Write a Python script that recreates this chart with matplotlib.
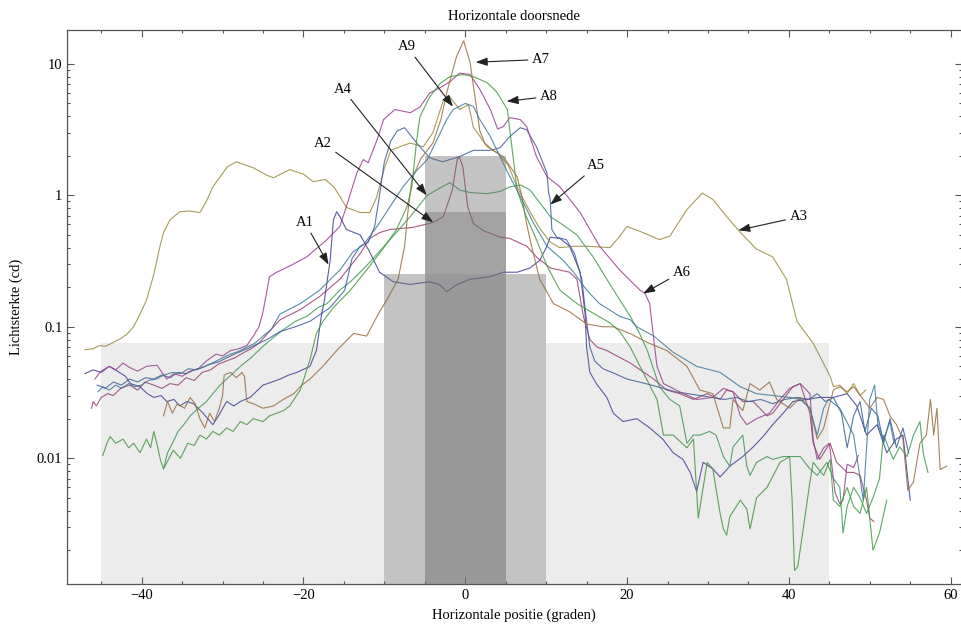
import numpy as np
import matplotlib
matplotlib.use("Agg")
import matplotlib.pyplot as plt
from matplotlib.ticker import LogLocator, NullFormatter

plt.rcParams['font.family'] = ['Liberation Serif', 'DejaVu Serif']

# Measured luminous intensity per lamp (x in degrees, y in cd)
a1 = [(-47.0, 0.044), (-46.0, 0.047), (-45.0, 0.045), (-44.0, 0.05), (-43.0, 0.046), (-42.0, 0.042),
      (-41.4, 0.037), (-40.2, 0.035), (-39.3, 0.031), (-38.5, 0.029), (-37.6, 0.030), (-36.9, 0.027),
      (-36.0, 0.028), (-35.3, 0.025), (-34.4, 0.027), (-33.6, 0.026), (-32.4, 0.022), (-31.2, 0.018),
      (-30.5, 0.021), (-29.5, 0.027), (-28.6, 0.025), (-27.8, 0.027), (-26.6, 0.029), (-25.0, 0.036),
      (-23.9, 0.038), (-22.9, 0.040), (-21.8, 0.043), (-20.8, 0.045), (-19.2, 0.050), (-18.4, 0.066),
      (-17.8, 0.12), (-17.4, 0.16), (-17.0, 0.24), (-16.7, 0.32), (-16.3, 0.65), (-15.9, 0.75),
      (-15.5, 0.69), (-14.7, 0.55), (-13.0, 0.50), (-11.8, 0.37), (-10.6, 0.26), (-8.9, 0.22),
      (-6.8, 0.21), (-4.4, 0.22), (-3.2, 0.21), (-2.3, 0.185), (-1.0, 0.21), (0.6, 0.23), (3.0, 0.24),
      (4.7, 0.26), (6.4, 0.26), (8.0, 0.28), (9.2, 0.32), (10.0, 0.40), (10.5, 0.48), (11.7, 0.47),
      (12.9, 0.41), (14.2, 0.26), (14.8, 0.127), (15.0, 0.07), (15.4, 0.045), (16.2, 0.037),
      (17.5, 0.029), (18.3, 0.022), (19.5, 0.019), (21.2, 0.020), (22.8, 0.017), (24.4, 0.014),
      (25.7, 0.011), (26.9, 0.0098), (27.8, 0.0078), (28.6, 0.0056), (29.4, 0.0093), (30.6, 0.0083),
      (31.5, 0.0072), (32.7, 0.0087), (34.3, 0.0103), (35.6, 0.0122), (36.8, 0.0146), (38.0, 0.018),
      (39.3, 0.022), (40.5, 0.027), (42.2, 0.028), (43.8, 0.029), (45.5, 0.029), (47.2, 0.031),
      (48.4, 0.025), (49.6, 0.015), (50.9, 0.018), (52.1, 0.011), (53.3, 0.014), (54.1, 0.015),
      (55.0, 0.0048)]

a2 = [(-46.2, 0.024), (-46.0, 0.027), (-45.6, 0.025), (-45.0, 0.029), (-44.2, 0.031), (-43.5, 0.030),
      (-42.6, 0.034), (-41.5, 0.036), (-40.5, 0.033), (-39.6, 0.038), (-38.5, 0.036), (-37.5, 0.034),
      (-36.5, 0.037), (-35.5, 0.036), (-34.5, 0.041), (-33.5, 0.039), (-32.5, 0.045), (-31.5, 0.047),
      (-30.5, 0.052), (-29.5, 0.055), (-28.5, 0.058), (-27.5, 0.063), (-26.5, 0.068), (-25.5, 0.075),
      (-24.5, 0.088), (-22.9, 0.113), (-20.4, 0.135), (-18.0, 0.17), (-15.5, 0.23), (-14.2, 0.29),
      (-13.0, 0.36), (-11.8, 0.47), (-10.6, 0.52), (-9.3, 0.55), (-6.5, 0.57), (-4.0, 0.62),
      (-2.7, 0.69), (-1.6, 1.1), (-1.0, 1.87), (-0.75, 1.97), (-0.3, 1.65), (0.3, 0.82), (1.0, 0.61),
      (2.2, 0.54), (4.3, 0.48), (5.5, 0.47), (7.6, 0.41), (8.8, 0.34), (10.5, 0.28), (11.7, 0.27),
      (12.9, 0.26), (13.8, 0.23), (14.6, 0.12), (15.4, 0.08), (16.3, 0.07), (17.5, 0.066),
      (18.3, 0.062), (20.4, 0.053), (23.3, 0.040), (24.9, 0.033), (26.5, 0.031), (28.2, 0.028),
      (29.9, 0.031), (31.5, 0.028), (32.3, 0.033), (33.1, 0.032), (34.3, 0.027), (35.6, 0.027),
      (37.3, 0.021), (38.0, 0.022), (39.3, 0.028), (40.5, 0.035), (41.4, 0.037), (42.6, 0.022),
      (43.0, 0.013), (43.8, 0.0098), (44.7, 0.012), (45.1, 0.013), (45.9, 0.0093), (47.2, 0.0078),
      (48.0, 0.0078), (48.8, 0.0074), (49.6, 0.0048), (50.0, 0.0035), (50.5, 0.0033)]

a3 = [(-47.0, 0.067), (-46.0, 0.068), (-45.2, 0.072), (-44.5, 0.071), (-43.5, 0.076), (-42.5, 0.082),
      (-41.8, 0.088), (-41.0, 0.10), (-40.2, 0.125), (-39.4, 0.16), (-38.5, 0.25), (-37.7, 0.42),
      (-37.3, 0.52), (-36.5, 0.65), (-35.3, 0.75), (-34.1, 0.76), (-32.8, 0.74), (-32.0, 0.9),
      (-31.2, 1.16), (-29.4, 1.65), (-28.3, 1.8), (-26.2, 1.62), (-24.5, 1.42), (-23.7, 1.36),
      (-21.7, 1.57), (-20.0, 1.45), (-18.8, 1.27), (-17.3, 1.32), (-16.2, 1.15), (-15.5, 0.98),
      (-14.7, 0.81), (-13.0, 0.74), (-11.8, 0.74), (-11.0, 0.95), (-10.0, 1.6), (-9.2, 2.2),
      (-8.1, 2.34), (-6.8, 2.5), (-5.2, 2.34), (-4.0, 3.0), (-2.7, 5.3), (-1.9, 5.6), (-0.7, 4.5),
      (0.4, 4.9), (1.0, 3.3), (2.7, 2.35), (4.0, 2.1), (5.3, 1.7), (6.4, 1.16), (8.0, 0.75),
      (9.3, 0.55), (10.5, 0.44), (11.7, 0.40), (13.5, 0.41), (15.0, 0.41), (17.9, 0.40), (19.0, 0.48),
      (20.0, 0.58), (22.0, 0.52), (24.0, 0.46), (25.3, 0.49), (27.4, 0.78), (29.3, 1.04), (30.6, 0.93),
      (32.3, 0.69), (33.9, 0.53), (36.0, 0.39), (38.0, 0.34), (39.7, 0.23), (41.0, 0.11), (43.0, 0.075),
      (45.1, 0.042), (45.5, 0.035), (46.3, 0.036), (47.2, 0.031), (48.0, 0.037), (48.8, 0.030),
      (49.5, 0.033)]

a4 = [(-37.3, 0.0083), (-36.8, 0.011), (-36.2, 0.013), (-35.5, 0.016), (-34.8, 0.018), (-34.0, 0.021),
      (-33.0, 0.024), (-32.0, 0.027), (-31.2, 0.031), (-30.3, 0.036), (-29.5, 0.040), (-28.6, 0.045),
      (-27.8, 0.050), (-26.5, 0.058), (-25.0, 0.071), (-23.8, 0.082), (-22.5, 0.095), (-21.0, 0.11),
      (-19.6, 0.12), (-18.2, 0.14), (-17.1, 0.15), (-15.5, 0.19), (-14.2, 0.22), (-13.0, 0.26),
      (-11.8, 0.31), (-9.3, 0.46), (-6.8, 0.69), (-4.7, 1.0), (-3.1, 1.14), (-1.9, 1.25), (-0.7, 1.1),
      (0.6, 1.05), (2.7, 1.03), (4.3, 1.07), (5.5, 1.16), (6.8, 1.2), (8.0, 1.1), (9.2, 0.88),
      (10.5, 0.69), (12.0, 0.6), (13.8, 0.5), (15.8, 0.34), (17.5, 0.23), (19.1, 0.16), (20.4, 0.12),
      (21.5, 0.09), (22.5, 0.066), (24.0, 0.035), (25.3, 0.028), (26.5, 0.025), (27.4, 0.013),
      (28.2, 0.015), (29.0, 0.015), (30.2, 0.016), (31.0, 0.015), (31.9, 0.0103), (32.7, 0.0087),
      (33.1, 0.0122), (34.3, 0.015), (34.8, 0.0087), (35.2, 0.0074), (36.0, 0.0093), (37.3, 0.0103),
      (38.0, 0.0098), (39.3, 0.0103), (40.1, 0.0103), (41.4, 0.0103), (42.6, 0.0083), (43.5, 0.0074),
      (44.7, 0.0093), (45.5, 0.007), (46.3, 0.006), (46.7, 0.0027), (47.2, 0.0043), (48.0, 0.006),
      (48.8, 0.005), (49.6, 0.0038), (50.4, 0.005), (51.2, 0.007), (51.7, 0.015), (52.9, 0.0098),
      (53.7, 0.0122), (54.6, 0.0103), (55.4, 0.015), (56.2, 0.019), (56.6, 0.011), (57.0, 0.0087),
      (57.2, 0.0078)]

a5 = [(-45.5, 0.036), (-44.5, 0.034), (-43.5, 0.038), (-42.5, 0.036), (-41.5, 0.040), (-40.5, 0.038),
      (-39.5, 0.041), (-38.5, 0.040), (-37.5, 0.043), (-36.5, 0.041), (-35.5, 0.045), (-34.5, 0.044),
      (-33.5, 0.047), (-32.5, 0.049), (-31.5, 0.052), (-30.5, 0.054), (-29.5, 0.058), (-28.5, 0.062),
      (-27.5, 0.066), (-26.5, 0.070), (-25.5, 0.075), (-24.5, 0.080), (-22.9, 0.092), (-21.0, 0.10),
      (-19.2, 0.11), (-16.7, 0.14), (-14.9, 0.19), (-14.0, 0.33), (-13.0, 0.41), (-12.0, 0.44),
      (-11.2, 0.58), (-10.6, 1.0), (-10.0, 1.8), (-9.2, 2.6), (-8.4, 3.1), (-7.5, 3.27), (-6.0, 2.5),
      (-4.4, 1.93), (-2.8, 1.8), (-0.7, 1.97), (1.0, 2.2), (3.1, 2.2), (4.3, 2.3), (5.5, 2.8),
      (6.8, 3.27), (7.6, 3.15), (8.8, 2.34), (10.1, 1.48), (10.3, 1.05), (10.5, 0.93), (10.7, 0.55),
      (11.3, 0.48), (12.5, 0.46), (13.5, 0.36), (14.4, 0.23), (15.0, 0.11), (15.4, 0.07), (16.0, 0.055),
      (17.0, 0.048), (18.5, 0.044), (20.0, 0.040), (21.5, 0.038), (23.0, 0.036), (24.5, 0.034),
      (26.0, 0.032), (27.5, 0.031), (29.0, 0.030), (30.5, 0.029), (32.0, 0.028), (33.5, 0.029),
      (35.0, 0.027), (36.5, 0.028), (38.0, 0.026), (39.5, 0.028), (41.0, 0.029), (42.5, 0.028),
      (43.5, 0.031), (44.5, 0.027), (45.5, 0.029), (46.5, 0.022), (47.2, 0.012), (48.0, 0.021),
      (48.8, 0.027), (49.4, 0.016), (50.2, 0.024), (51.0, 0.021), (51.7, 0.013), (52.5, 0.020),
      (53.3, 0.012), (54.1, 0.017), (54.8, 0.011)]

a6 = [(-45.8, 0.040), (-45.0, 0.046), (-44.0, 0.050), (-43.2, 0.047), (-42.3, 0.053), (-41.5, 0.049),
      (-40.5, 0.046), (-39.4, 0.050), (-38.1, 0.051), (-37.5, 0.045), (-36.9, 0.040), (-36.0, 0.044),
      (-35.0, 0.042), (-34.0, 0.046), (-33.0, 0.048), (-32.0, 0.055), (-30.8, 0.062), (-30.0, 0.060),
      (-29.0, 0.066), (-28.0, 0.068), (-27.0, 0.072), (-26.2, 0.085), (-25.5, 0.10), (-25.0, 0.13),
      (-24.5, 0.19), (-24.2, 0.24), (-23.3, 0.26), (-21.7, 0.29), (-19.6, 0.34), (-17.1, 0.46),
      (-15.5, 0.58), (-14.7, 0.82), (-13.4, 1.48), (-12.6, 1.87), (-12.0, 1.77), (-10.9, 2.65),
      (-10.1, 3.77), (-8.7, 4.5), (-6.8, 4.25), (-5.6, 4.7), (-4.4, 6.0), (-3.1, 6.6), (-1.9, 7.3),
      (-0.7, 8.5), (0.6, 8.3), (1.8, 6.4), (3.1, 4.5), (4.0, 3.2), (4.7, 3.33), (5.5, 3.9), (6.8, 3.77),
      (7.6, 3.33), (8.8, 1.97), (10.1, 1.39), (11.7, 1.16), (14.2, 0.74), (16.6, 0.41), (19.1, 0.27),
      (21.6, 0.19), (22.2, 0.18), (22.8, 0.15), (23.3, 0.08), (23.7, 0.05), (24.5, 0.037),
      (26.5, 0.032), (28.6, 0.028), (30.6, 0.029), (31.9, 0.034), (33.1, 0.032), (34.0, 0.021),
      (34.8, 0.018), (36.0, 0.020), (37.6, 0.022), (38.9, 0.028), (40.1, 0.034), (41.4, 0.037),
      (42.6, 0.031), (43.0, 0.014), (43.5, 0.0098), (44.3, 0.012), (45.0, 0.013), (45.7, 0.0055),
      (46.3, 0.0045), (46.7, 0.0048), (47.2, 0.009), (48.0, 0.0085), (48.6, 0.0105)]

a7 = [(-37.3, 0.021), (-36.8, 0.027), (-36.2, 0.022), (-35.6, 0.026), (-34.7, 0.024), (-34.0, 0.029),
      (-33.4, 0.026), (-32.8, 0.020), (-32.2, 0.017), (-31.6, 0.022), (-31.0, 0.019), (-30.4, 0.024),
      (-30.0, 0.03), (-29.8, 0.043), (-29.0, 0.045), (-28.3, 0.041), (-27.6, 0.045), (-27.3, 0.042),
      (-27.0, 0.027), (-26.2, 0.026), (-25.0, 0.024), (-23.7, 0.025), (-22.5, 0.028), (-21.2, 0.031),
      (-20.2, 0.036), (-19.2, 0.040), (-17.6, 0.050), (-15.9, 0.066), (-13.8, 0.089), (-12.2, 0.085),
      (-10.6, 0.13), (-9.7, 0.16), (-8.3, 0.23), (-7.5, 0.41), (-7.1, 0.74), (-6.6, 1.32),
      (-5.5, 1.9), (-4.0, 2.5), (-3.0, 3.8), (-2.3, 6.0), (-1.1, 11.3), (-0.2, 15.0), (0.6, 10.2),
      (1.2, 5.6), (1.8, 3.1), (2.4, 2.5), (3.4, 2.2), (4.7, 1.97), (6.4, 1.39), (7.0, 0.98),
      (7.6, 0.6), (8.2, 0.41), (9.2, 0.23), (10.9, 0.15), (12.9, 0.13), (15.0, 0.105), (17.0, 0.10),
      (18.3, 0.10), (20.5, 0.088), (22.5, 0.076), (24.9, 0.066), (27.4, 0.05), (29.0, 0.033),
      (30.6, 0.031), (31.9, 0.017), (32.7, 0.017), (33.1, 0.028), (34.3, 0.023), (35.2, 0.037),
      (36.4, 0.033), (37.6, 0.038), (38.5, 0.028), (40.1, 0.024), (41.4, 0.029), (42.6, 0.024),
      (43.5, 0.014), (44.3, 0.017), (45.5, 0.033), (46.3, 0.035), (47.2, 0.032), (48.0, 0.035),
      (49.2, 0.028), (50.0, 0.024), (50.9, 0.029), (51.7, 0.028), (52.5, 0.021), (53.3, 0.018),
      (54.1, 0.014), (54.7, 0.0057), (55.4, 0.0066), (56.2, 0.013), (57.0, 0.015), (57.5, 0.028),
      (57.9, 0.015), (58.3, 0.024), (58.7, 0.0082), (59.5, 0.0087)]

a8 = [(-44.8, 0.0105), (-44.3, 0.013), (-43.9, 0.0146), (-43.2, 0.013), (-42.3, 0.014), (-41.6, 0.012),
      (-41.0, 0.013), (-40.2, 0.011), (-39.4, 0.014), (-38.9, 0.012), (-38.5, 0.016), (-38.0, 0.012),
      (-37.7, 0.0098), (-37.3, 0.0083), (-36.8, 0.0095), (-36.1, 0.0115), (-35.2, 0.010),
      (-34.3, 0.013), (-33.5, 0.0125), (-32.8, 0.015), (-32.0, 0.014), (-31.2, 0.016), (-30.4, 0.015),
      (-29.5, 0.017), (-28.7, 0.016), (-27.8, 0.019), (-27.0, 0.018), (-26.2, 0.020), (-25.0, 0.019),
      (-24.2, 0.021), (-23.3, 0.022), (-22.5, 0.023), (-21.7, 0.025), (-20.4, 0.033), (-19.2, 0.056),
      (-18.4, 0.089), (-17.6, 0.11), (-16.3, 0.14), (-14.2, 0.19), (-12.2, 0.27), (-10.2, 0.39),
      (-8.5, 0.55), (-7.2, 0.82), (-6.6, 1.16), (-6.0, 2.65), (-5.6, 3.97), (-4.4, 5.6), (-3.1, 7.1),
      (-1.9, 8.0), (-0.3, 8.3), (1.0, 8.0), (2.7, 7.2), (3.9, 6.1), (4.5, 5.3), (5.2, 4.5),
      (5.5, 3.15), (6.0, 1.77), (6.4, 1.1), (7.5, 0.7), (8.8, 0.46), (10.1, 0.29), (11.7, 0.19),
      (13.8, 0.15), (15.8, 0.127), (17.9, 0.107), (19.1, 0.092), (20.4, 0.07), (21.6, 0.05),
      (23.7, 0.028), (24.5, 0.015), (25.7, 0.015), (27.4, 0.012), (28.2, 0.014), (28.8, 0.0035),
      (29.9, 0.0093), (30.6, 0.0083), (31.5, 0.0038), (31.9, 0.0029), (32.3, 0.0026), (32.7, 0.0036),
      (34.0, 0.0048), (34.8, 0.0041), (35.2, 0.0029), (36.0, 0.005), (37.3, 0.006), (38.9, 0.0093),
      (40.1, 0.0103), (40.4, 0.0048), (40.7, 0.0014), (41.1, 0.0015), (41.7, 0.0027), (42.6, 0.0066),
      (43.0, 0.0093), (44.3, 0.0074), (45.1, 0.0098), (45.5, 0.0048), (46.3, 0.0043), (47.2, 0.006),
      (48.0, 0.0043), (48.8, 0.0038), (49.6, 0.006), (50.4, 0.002), (51.2, 0.0027), (52.1, 0.0048)]

a9 = [(-45.4, 0.032), (-44.8, 0.035), (-44.0, 0.033), (-43.2, 0.036), (-42.5, 0.034), (-41.6, 0.037),
      (-40.8, 0.035), (-40.0, 0.036), (-39.2, 0.039), (-38.2, 0.040), (-37.2, 0.043), (-36.2, 0.045),
      (-35.2, 0.044), (-34.2, 0.048), (-33.2, 0.047), (-32.2, 0.050), (-31.0, 0.054), (-30.0, 0.058),
      (-29.0, 0.062), (-28.0, 0.065), (-27.0, 0.070), (-26.0, 0.075), (-25.0, 0.085), (-24.0, 0.095),
      (-22.9, 0.125), (-20.4, 0.15), (-18.0, 0.19), (-15.5, 0.27), (-13.9, 0.37), (-12.6, 0.42),
      (-10.9, 0.58), (-9.3, 0.82), (-7.7, 1.16), (-6.2, 1.5), (-4.7, 1.87), (-3.5, 2.65), (-2.3, 3.77),
      (-1.5, 4.5), (0.0, 5.0), (1.0, 4.75), (1.8, 3.77), (3.1, 2.8), (4.3, 1.97), (5.5, 1.39),
      (6.8, 0.98), (8.4, 0.62), (10.1, 0.41), (12.1, 0.32), (13.4, 0.26), (15.0, 0.19), (16.6, 0.15),
      (19.1, 0.12), (20.4, 0.113), (21.2, 0.10), (23.3, 0.085), (25.7, 0.064), (28.6, 0.05),
      (31.5, 0.045), (34.0, 0.035), (36.0, 0.031), (38.0, 0.030), (40.1, 0.029), (41.4, 0.028),
      (42.6, 0.024), (43.5, 0.015), (44.3, 0.024), (44.9, 0.028), (46.3, 0.024), (48.0, 0.015),
      (49.2, 0.0048), (49.6, 0.012), (50.0, 0.028), (50.6, 0.036), (51.0, 0.018), (51.7, 0.014),
      (52.5, 0.019), (53.0, 0.013)]

series = [a1, a2, a3, a4, a5, a6, a7, a8, a9]
colors = [(0.24, 0.24, 0.6), (0.6, 0.24, 0.443), (0.6, 0.547, 0.24), (0.24, 0.6, 0.337),
          (0.24, 0.353, 0.6), (0.6, 0.24, 0.563), (0.6, 0.427, 0.24), (0.264, 0.6, 0.24),
          (0.24, 0.474, 0.6)]

# Requirement zones: (x0, x1, y1, grey level after blending)
zones = [(-45, -10, 0.075, 236), (10, 45, 0.075, 236),
         (-10, -5, 0.25, 196), (5, 10, 0.25, 196),
         (-5, 5, 0.25, 153), (-5, 5, 0.75, 163), (-5, 5, 2.0, 196)]

# Labels: name, text position, arrow tip
labels = [("A1", (-19.8, 0.62), (-16.9, 0.297)),
          ("A2", (-17.6, 2.5), (-3.96, 0.623)),
          ("A3", (41.2, 0.685), (33.75, 0.542)),
          ("A4", (-15.15, 6.44), (-4.77, 1.0)),
          ("A5", (16.2, 1.68), (10.5, 0.85)),
          ("A6", (26.75, 0.261), (22.0, 0.179)),
          ("A7", (9.35, 10.8), (1.3, 10.3)),
          ("A8", (10.35, 5.66), (5.12, 5.19)),
          ("A9", (-7.2, 13.5), (-1.52, 4.73))]

fig = plt.figure(figsize=(9.62, 6.32), dpi=100)
ax = fig.add_axes([0.0693, 0.0764, 0.9302, 0.8761])
ax.set_yscale('log')
ymin, ymax = 0.00111, 18.1
ax.set_xlim(-49.27, 61.34)
ax.set_ylim(ymin, ymax)

for pts, c in zip(series, colors):
    xs, ys = zip(*pts)
    ax.plot(xs, ys, color=c, lw=0.8, alpha=0.85, zorder=2)

grey = 110
prev_top = {}
for x0, x1, y1, level in zones:
    y0 = prev_top.get((x0, x1), ymin)
    alpha = (255 - level) / (255 - grey)
    ax.fill_between([x0, x1], y0, y1, color=str(grey / 255), alpha=alpha,
                    lw=0, antialiased=False, zorder=3)
    prev_top[(x0, x1)] = y1

for name, txt, tip in labels:
    ax.annotate(name, xy=tip, xytext=txt, fontsize=10.5, ha='center', va='center', zorder=5,
                arrowprops=dict(arrowstyle='-|>,head_length=0.7,head_width=0.25',
                                color='#222222', lw=0.8, mutation_scale=10,
                                shrinkA=1, shrinkB=0))

ax.set_xticks([-40, -20, 0, 20, 40, 60])
ax.set_xticklabels(['\u221240', '\u221220', '0', '20', '40', '60'])
ax.set_xticks(np.arange(-45, 61, 5), minor=True)
ax.set_yticks([0.01, 0.1, 1, 10])
ax.set_yticklabels(['0.01', '0.1', '1', '10'])
ax.yaxis.set_minor_locator(LogLocator(base=10, subs=np.arange(2, 10)))
ax.yaxis.set_minor_formatter(NullFormatter())

ax.tick_params(which='both', direction='in', top=True, right=True, color='#555555',
               labelsize=10.5, width=0.8)
ax.tick_params(which='major', length=5, pad=4)
ax.tick_params(which='minor', length=2.5)
ax.tick_params(axis='y', pad=3)
for s in ax.spines.values():
    s.set_color('#555555')
    s.set_linewidth(0.9)

ax.set_title("Horizontale doorsnede", fontsize=10.5, pad=7)
ax.set_xlabel("Horizontale positie (graden)", fontsize=10.5)
ax.set_ylabel("Lichtsterkte (cd)", fontsize=10.5)
ax.xaxis.set_label_coords(0.5, -0.045)
ax.yaxis.set_label_coords(-0.049, 0.5)

fig.savefig("out.png", dpi=100)
